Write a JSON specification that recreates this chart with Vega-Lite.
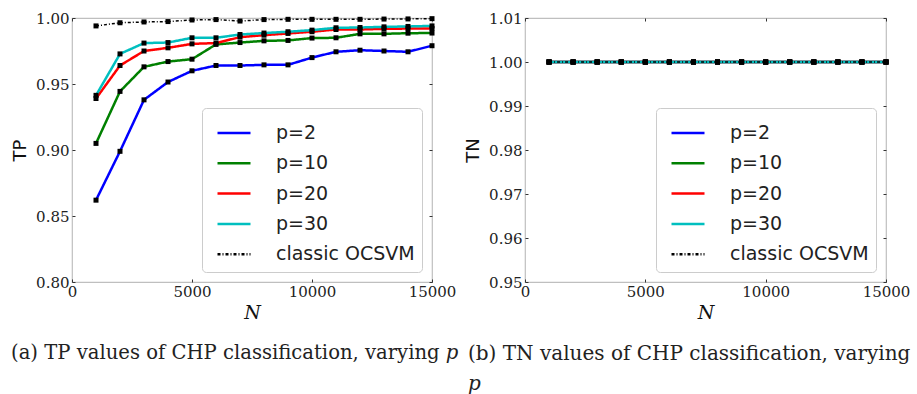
{
  "$schema": "https://vega.github.io/schema/vega-lite/v6.json",
  "padding": {"left": 10, "top": 10, "right": 5, "bottom": 0},
  "background": "white",
  "datasets": {
    "d": [
      {"s": "p=2", "N": 1000, "TP": 0.862, "TN": 1},
      {"s": "p=2", "N": 2000, "TP": 0.899, "TN": 1},
      {"s": "p=2", "N": 3000, "TP": 0.938, "TN": 1},
      {"s": "p=2", "N": 4000, "TP": 0.9515, "TN": 1},
      {"s": "p=2", "N": 5000, "TP": 0.960, "TN": 1},
      {"s": "p=2", "N": 6000, "TP": 0.964, "TN": 1},
      {"s": "p=2", "N": 7000, "TP": 0.964, "TN": 1},
      {"s": "p=2", "N": 8000, "TP": 0.9645, "TN": 1},
      {"s": "p=2", "N": 9000, "TP": 0.9645, "TN": 1},
      {"s": "p=2", "N": 10000, "TP": 0.970, "TN": 1},
      {"s": "p=2", "N": 11000, "TP": 0.9744, "TN": 1},
      {"s": "p=2", "N": 12000, "TP": 0.9756, "TN": 1},
      {"s": "p=2", "N": 13000, "TP": 0.975, "TN": 1},
      {"s": "p=2", "N": 14000, "TP": 0.9744, "TN": 1},
      {"s": "p=2", "N": 15000, "TP": 0.979, "TN": 1},
      {"s": "p=10", "N": 1000, "TP": 0.905, "TN": 1},
      {"s": "p=10", "N": 2000, "TP": 0.9444, "TN": 1},
      {"s": "p=10", "N": 3000, "TP": 0.963, "TN": 1},
      {"s": "p=10", "N": 4000, "TP": 0.967, "TN": 1},
      {"s": "p=10", "N": 5000, "TP": 0.9688, "TN": 1},
      {"s": "p=10", "N": 6000, "TP": 0.980, "TN": 1},
      {"s": "p=10", "N": 7000, "TP": 0.9814, "TN": 1},
      {"s": "p=10", "N": 8000, "TP": 0.9827, "TN": 1},
      {"s": "p=10", "N": 9000, "TP": 0.983, "TN": 1},
      {"s": "p=10", "N": 10000, "TP": 0.9848, "TN": 1},
      {"s": "p=10", "N": 11000, "TP": 0.985, "TN": 1},
      {"s": "p=10", "N": 12000, "TP": 0.988, "TN": 1},
      {"s": "p=10", "N": 13000, "TP": 0.988, "TN": 1},
      {"s": "p=10", "N": 14000, "TP": 0.9885, "TN": 1},
      {"s": "p=10", "N": 15000, "TP": 0.9886, "TN": 1},
      {"s": "p=20", "N": 1000, "TP": 0.939, "TN": 1},
      {"s": "p=20", "N": 2000, "TP": 0.964, "TN": 1},
      {"s": "p=20", "N": 3000, "TP": 0.975, "TN": 1},
      {"s": "p=20", "N": 4000, "TP": 0.9774, "TN": 1},
      {"s": "p=20", "N": 5000, "TP": 0.9804, "TN": 1},
      {"s": "p=20", "N": 6000, "TP": 0.981, "TN": 1},
      {"s": "p=20", "N": 7000, "TP": 0.9855, "TN": 1},
      {"s": "p=20", "N": 8000, "TP": 0.987, "TN": 1},
      {"s": "p=20", "N": 9000, "TP": 0.9883, "TN": 1},
      {"s": "p=20", "N": 10000, "TP": 0.9896, "TN": 1},
      {"s": "p=20", "N": 11000, "TP": 0.9913, "TN": 1},
      {"s": "p=20", "N": 12000, "TP": 0.9913, "TN": 1},
      {"s": "p=20", "N": 13000, "TP": 0.9918, "TN": 1},
      {"s": "p=20", "N": 14000, "TP": 0.992, "TN": 1},
      {"s": "p=20", "N": 15000, "TP": 0.992, "TN": 1},
      {"s": "p=30", "N": 1000, "TP": 0.9414, "TN": 1},
      {"s": "p=30", "N": 2000, "TP": 0.9728, "TN": 1},
      {"s": "p=30", "N": 3000, "TP": 0.981, "TN": 1},
      {"s": "p=30", "N": 4000, "TP": 0.9814, "TN": 1},
      {"s": "p=30", "N": 5000, "TP": 0.985, "TN": 1},
      {"s": "p=30", "N": 6000, "TP": 0.985, "TN": 1},
      {"s": "p=30", "N": 7000, "TP": 0.9875, "TN": 1},
      {"s": "p=30", "N": 8000, "TP": 0.9886, "TN": 1},
      {"s": "p=30", "N": 9000, "TP": 0.9896, "TN": 1},
      {"s": "p=30", "N": 10000, "TP": 0.9908, "TN": 1},
      {"s": "p=30", "N": 11000, "TP": 0.9926, "TN": 1},
      {"s": "p=30", "N": 12000, "TP": 0.9928, "TN": 1},
      {"s": "p=30", "N": 13000, "TP": 0.9933, "TN": 1},
      {"s": "p=30", "N": 14000, "TP": 0.9936, "TN": 1},
      {"s": "p=30", "N": 15000, "TP": 0.994, "TN": 1},
      {"s": "classic OCSVM", "N": 1000, "TP": 0.994, "TN": 1},
      {"s": "classic OCSVM", "N": 2000, "TP": 0.9964, "TN": 1},
      {"s": "classic OCSVM", "N": 3000, "TP": 0.997, "TN": 1},
      {"s": "classic OCSVM", "N": 4000, "TP": 0.9973, "TN": 1},
      {"s": "classic OCSVM", "N": 5000, "TP": 0.9985, "TN": 1},
      {"s": "classic OCSVM", "N": 6000, "TP": 0.9988, "TN": 1},
      {"s": "classic OCSVM", "N": 7000, "TP": 0.9977, "TN": 1},
      {"s": "classic OCSVM", "N": 8000, "TP": 0.9988, "TN": 1},
      {"s": "classic OCSVM", "N": 9000, "TP": 0.999, "TN": 1},
      {"s": "classic OCSVM", "N": 10000, "TP": 0.999, "TN": 1},
      {"s": "classic OCSVM", "N": 11000, "TP": 0.999, "TN": 1},
      {"s": "classic OCSVM", "N": 12000, "TP": 0.999, "TN": 1},
      {"s": "classic OCSVM", "N": 13000, "TP": 0.9992, "TN": 1},
      {"s": "classic OCSVM", "N": 14000, "TP": 0.9993, "TN": 1},
      {"s": "classic OCSVM", "N": 15000, "TP": 0.9995, "TN": 1}
    ]
  },
  "data": {"name": "d"},
  "spacing": 93,
  "bounds": "flush",
  "resolve": {
    "scale": {"color": "independent", "strokeDash": "independent", "x": "independent", "y": "independent"},
    "legend": {"color": "independent", "strokeDash": "independent"}
  },
  "hconcat": [
    {
      "width": 360,
      "height": 264,
      "title": {"text": "(a) TP values of CHP classification, varying 𝑝", "orient": "bottom", "anchor": "start", "frame": "group", "dx": -61, "offset": 22, "fontSize": 19.6},
      "layer": [
        {
          "transform": [{"filter": "datum.s !== 'classic OCSVM'"}],
          "mark": {"type": "line", "strokeWidth": 2.5},
          "encoding": {
            "x": {"field": "N", "type": "quantitative", "scale": {"domain": [0, 15000], "nice": false}, "axis": {"title": "N", "values": [0, 5000, 10000, 15000], "format": "d"}},
            "y": {"field": "TP", "type": "quantitative", "scale": {"domain": [0.8, 1.0], "nice": false}, "axis": {"title": "TP", "values": [0.8, 0.85, 0.9, 0.95, 1.0], "format": ".2f"}},
            "color": {"field": "s", "type": "nominal", "scale": {"domain": ["p=2", "p=10", "p=20", "p=30", "classic OCSVM"], "range": ["#0000ff", "#008000", "#ff0000", "#00bfbf", "#000000"]}, "legend": {"title": null}},
            "strokeDash": {"field": "s", "type": "nominal", "scale": {"domain": ["p=2", "p=10", "p=20", "p=30", "classic OCSVM"], "range": [[1, 0], [1, 0], [1, 0], [1, 0], [3, 2, 1, 2]]}, "legend": {"title": null}}
          }
        },
        {
          "transform": [{"filter": "datum.s === 'classic OCSVM'"}],
          "mark": {"type": "line", "strokeWidth": 1.5},
          "encoding": {
            "x": {"field": "N", "type": "quantitative", "scale": {"domain": [0, 15000], "nice": false}, "axis": null},
            "y": {"field": "TP", "type": "quantitative", "scale": {"domain": [0.8, 1.0], "nice": false}, "axis": null},
            "color": {"field": "s", "type": "nominal"},
            "strokeDash": {"field": "s", "type": "nominal"}
          }
        },
        {
          "mark": {"type": "point", "shape": "square", "filled": true, "color": "black", "size": 25, "opacity": 1},
          "encoding": {
            "x": {"field": "N", "type": "quantitative", "scale": {"domain": [0, 15000], "nice": false}, "axis": {"orient": "top", "labels": false, "title": null, "values": [0, 5000, 10000, 15000]}},
            "y": {"field": "TP", "type": "quantitative", "scale": {"domain": [0.8, 1.0], "nice": false}, "axis": {"orient": "right", "labels": false, "title": null, "values": [0.8, 0.85, 0.9, 0.95, 1.0]}},
            "detail": {"field": "s", "type": "nominal"}
          }
        }
      ],
      "resolve": {"axis": {"x": "independent", "y": "independent"}}
    },
    {
      "width": 361,
      "height": 264,
      "title": {"text": ["(b) TN values of CHP classification, varying", "𝑝"], "orient": "bottom", "anchor": "start", "align": "left", "frame": "group", "dx": -57, "offset": 22, "lineHeight": 30},
      "layer": [
        {
          "transform": [{"filter": "datum.s !== 'classic OCSVM'"}],
          "mark": {"type": "line", "strokeWidth": 2.5},
          "encoding": {
            "x": {"field": "N", "type": "quantitative", "scale": {"domain": [0, 15000], "nice": false}, "axis": {"title": "N", "values": [0, 5000, 10000, 15000], "format": "d"}},
            "y": {"field": "TN", "type": "quantitative", "scale": {"domain": [0.95, 1.01], "nice": false}, "axis": {"title": "TN", "values": [0.95, 0.96, 0.97, 0.98, 0.99, 1.0, 1.01], "format": ".2f"}},
            "color": {"field": "s", "type": "nominal", "scale": {"domain": ["p=2", "p=10", "p=20", "p=30", "classic OCSVM"], "range": ["#0000ff", "#008000", "#ff0000", "#00bfbf", "#000000"]}, "legend": {"title": null}},
            "strokeDash": {"field": "s", "type": "nominal", "scale": {"domain": ["p=2", "p=10", "p=20", "p=30", "classic OCSVM"], "range": [[1, 0], [1, 0], [1, 0], [1, 0], [3, 2, 1, 2]]}, "legend": {"title": null}}
          }
        },
        {
          "transform": [{"filter": "datum.s === 'classic OCSVM'"}],
          "mark": {"type": "line", "strokeWidth": 1.5},
          "encoding": {
            "x": {"field": "N", "type": "quantitative", "scale": {"domain": [0, 15000], "nice": false}, "axis": null},
            "y": {"field": "TN", "type": "quantitative", "scale": {"domain": [0.95, 1.01], "nice": false}, "axis": null},
            "color": {"field": "s", "type": "nominal"},
            "strokeDash": {"field": "s", "type": "nominal"}
          }
        },
        {
          "mark": {"type": "point", "shape": "square", "filled": true, "color": "black", "size": 25, "opacity": 1},
          "encoding": {
            "x": {"field": "N", "type": "quantitative", "scale": {"domain": [0, 15000], "nice": false}, "axis": {"orient": "top", "labels": false, "title": null, "values": [0, 5000, 10000, 15000]}},
            "y": {"field": "TN", "type": "quantitative", "scale": {"domain": [0.95, 1.01], "nice": false}, "axis": {"orient": "right", "labels": false, "title": null, "values": [0.95, 0.96, 0.97, 0.98, 0.99, 1.0, 1.01]}},
            "detail": {"field": "s", "type": "nominal"}
          }
        }
      ],
      "resolve": {"axis": {"x": "independent", "y": "independent"}}
    }
  ],
  "config": {
    "view": {"stroke": "#bfbfbf", "strokeWidth": 1.2},
    "axis": {
      "domain": false,
      "grid": false,
      "ticks": true,
      "tickSize": -3,
      "tickColor": "#333333",
      "labelPadding": 5,
      "labelFlush": false,
      "labelFont": "DejaVu Serif",
      "labelFontSize": 15,
      "labelColor": "#222222",
      "titleFontWeight": "normal",
      "titleColor": "#111111"
    },
    "axisX": {"titleFont": "DejaVu Serif", "titleFontStyle": "italic", "titleFontSize": 19, "titlePadding": 4},
    "axisY": {"titleFont": "DejaVu Sans", "titleFontSize": 18, "titlePadding": 6, "labelPadding": 6},
    "legend": {
      "orient": "bottom-right",
      "offset": 10,
      "labelFont": "DejaVu Sans",
      "labelFontSize": 19,
      "labelColor": "#222222",
      "symbolType": "stroke",
      "symbolSize": 1089,
      "symbolStrokeWidth": 2.5,
      "symbolOffset": 7,
      "labelOffset": 24,
      "rowPadding": 2.3,
      "padding": 7,
      "strokeColor": "#cccccc",
      "cornerRadius": 4,
      "fillColor": "white"
    },
    "title": {"font": "DejaVu Serif", "fontSize": 20, "fontWeight": "normal", "color": "#222222"}
  }
}
